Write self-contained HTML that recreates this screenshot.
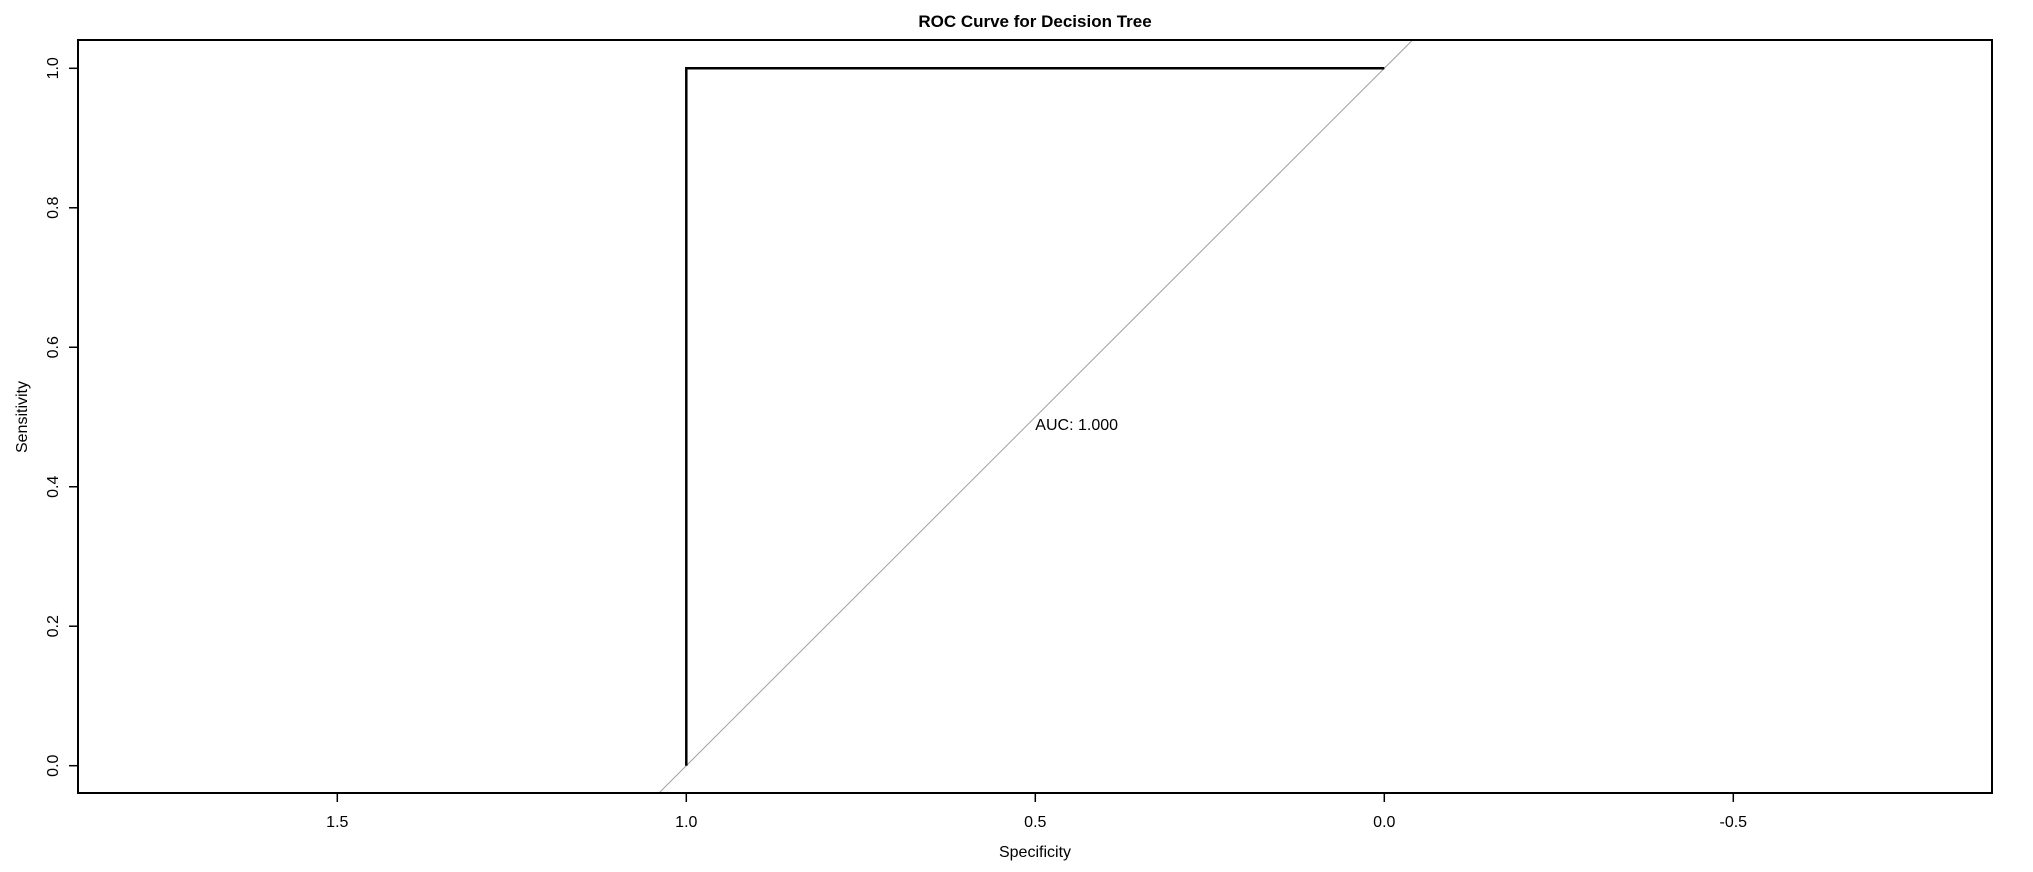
<!DOCTYPE html>
<html><head><meta charset="utf-8"><style>
html,body{margin:0;padding:0;background:#fff;width:2033px;height:872px;overflow:hidden;}
svg{display:block;font-family:"Liberation Sans",Arial,sans-serif;}
</style></head><body>
<svg id="chart" width="2033" height="872" viewBox="0 0 2033 872">
<text x="1035" y="27" text-anchor="middle" font-size="17" font-weight="bold">ROC Curve for Decision Tree</text>
<defs><clipPath id="plotclip"><rect x="78" y="40" width="1914" height="753"/></clipPath></defs>
<g id="marks" clip-path="url(#plotclip)"></g>
<rect x="78" y="40" width="1914" height="753" fill="none" stroke="#000" stroke-width="2"/>
<g id="axes"></g>
<text x="1035" y="857" text-anchor="middle" font-size="16">Specificity</text>
<text transform="translate(27,417) rotate(-90)" text-anchor="middle" font-size="16">Sensitivity</text>
</svg>
<script>
const xTicks=[1.5,1.0,0.5,0.0,-0.5];
const xTickLabels=["1.5","1.0","0.5","0.0","-0.5"];
const yTicks=[0,0.2,0.4,0.6,0.8,1.0];
const yTickLabels=["0.0","0.2","0.4","0.6","0.8","1.0"];
const specificity=[1,1,0];
const sensitivity=[0,1,1];
const aucLabel="AUC: 1.000";
const aucPos=[0.5,0.5];

const X=v=>1384.3-698*v;
const Y=s=>765.7-697.4*s;
const Yinv=py=>(765.7-py)/697.4;
const NS="http://www.w3.org/2000/svg";
const marks=document.getElementById('marks');
const axes=document.getElementById('axes');
function mk(tag,attrs,parent){const e=document.createElementNS(NS,tag);for(const k in attrs)e.setAttribute(k,attrs[k]);parent.appendChild(e);return e;}

const sLo=Yinv(793), sHi=Yinv(40);
const diag=mk('line',{x1:X(1-sLo),y1:Y(sLo),x2:X(1-sHi),y2:Y(sHi),stroke:'#a0a0a0','stroke-width':1},marks);



const pts=specificity.map((s,i)=>X(s)+','+Y(sensitivity[i])).join(' ');
const curve=mk('polyline',{points:pts,fill:'none',stroke:'#000','stroke-width':2.5},marks);



const auc=mk('text',{x:X(aucPos[0]),y:Y(aucPos[1])+13,'font-size':16},marks);
auc.textContent=aucLabel;



xTicks.forEach((v,i)=>{
  const t=mk('line',{x1:X(v),y1:793,x2:X(v),y2:802,stroke:'#000','stroke-width':1.5},axes);
  
  
  const l=mk('text',{x:X(v),y:827,'text-anchor':'middle','font-size':16},axes);
  l.textContent=xTickLabels[i];
  
  
});
yTicks.forEach((v,i)=>{
  const t=mk('line',{x1:69,y1:Y(v),x2:78,y2:Y(v),stroke:'#000','stroke-width':1.5},axes);
  
  
  const l=mk('text',{transform:`translate(58,${Y(v)}) rotate(-90)`,'text-anchor':'middle','font-size':16},axes);
  l.textContent=yTickLabels[i];
  
  
});
</script>
</body></html>
